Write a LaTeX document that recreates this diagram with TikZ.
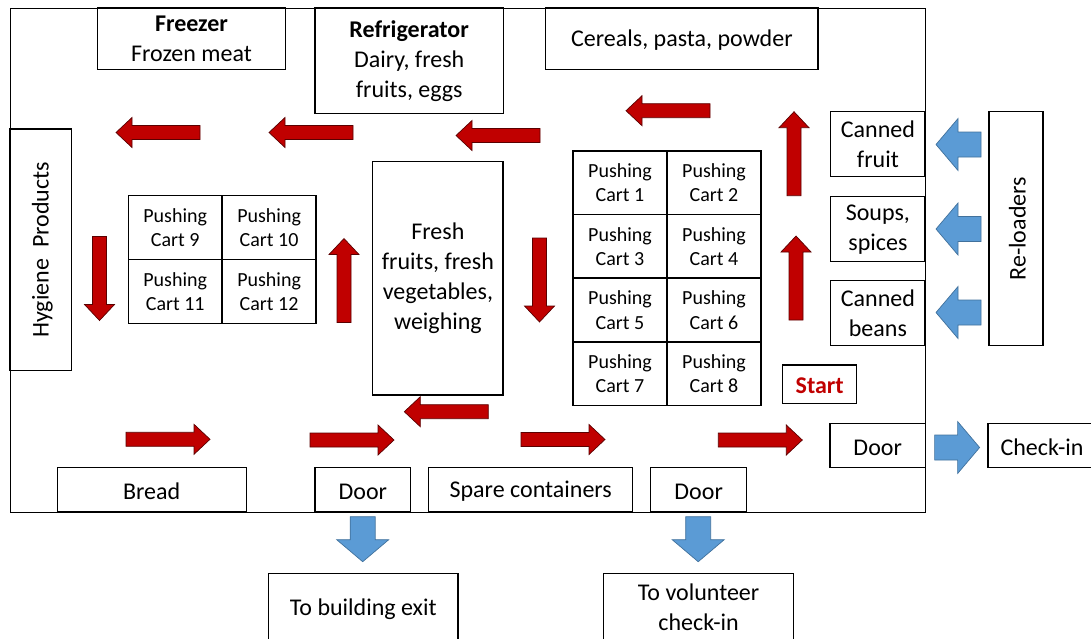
\documentclass[tikz,border=0pt]{standalone}
\usepackage{fontspec}
\setmainfont{Carlito}
\definecolor{redfill}{HTML}{C00000}
\definecolor{redline}{HTML}{5A0000}
\definecolor{bluefill}{HTML}{5B9BD5}
\definecolor{blueline}{HTML}{41719C}
\newcommand\mainfnt{\fontsize{24}{30}\selectfont}
\newcommand\cartfnt{\fontsize{20}{24.5}\selectfont}
\tikzset{
  box/.style={draw, line width=1.4pt, inner sep=0pt, align=center, font=\mainfnt,
    execute at begin node={\rule{0pt}{19.5pt}}},
  cart/.style={draw, line width=1.4pt, inner sep=0pt, align=center, font=\cartfnt,
    minimum width=94pt, minimum height=63.7pt, execute at begin node={\rule{0pt}{15.5pt}}},
  redarr/.style={fill=redfill, draw=redline, line width=0.7pt},
  bluearr/.style={fill=bluefill, draw=blueline, line width=0.7pt},
}
% red block arrow: #1 tail point, #2 direction angle
\newcommand\redarrow[2]{%
  \begin{scope}[shift={#1}, rotate=#2]
    \draw[redarr] (0,-7) -- (68,-7) -- (68,-15) -- (84,0) -- (68,15) -- (68,7) -- (0,7) -- cycle;
  \end{scope}}
% blue block arrow
\newcommand\bluearrow[2]{%
  \begin{scope}[shift={#1}, rotate=#2]
    \draw[bluearr] (0,-12.5) -- (23,-12.5) -- (23,-26) -- (45,0) -- (23,26) -- (23,12.5) -- (0,12.5) -- cycle;
  \end{scope}}
\begin{document}
\begin{tikzpicture}[x=1pt, y=-1pt]
\useasboundingbox (0,0) rectangle (1091,638);
\clip (0,0) rectangle (1091,638);

% building outline
\node[draw, line width=1.4pt, inner sep=0pt, minimum width=915pt, minimum height=503.5pt, anchor=north west] (building) at (10,8) {};

% top row
\node[box, minimum width=188.4pt, minimum height=61.7pt] (freezer) at (191.5,38.9) {\textbf{Freezer}\\Frozen meat};
\node[box, minimum width=188.3pt, minimum height=105.3pt] (fridge) at (409.2,60.7) {\textbf{Refrigerator}\\Dairy, fresh\\fruits, eggs};
\node[box, minimum width=272.3pt, minimum height=61.7pt] (cereals) at (681.9,38.9) {Cereals, pasta, powder};

% left wall
\node[box, rotate=90, minimum width=241.7pt, minimum height=61.7pt] (hygiene) at (40.9,249.9) {Hygiene\ \ Products};

% left cart grid
\node[cart] (c9)  at (175.2,227.6) {Pushing\\Cart 9};
\node[cart] (c10) at (269.1,227.6) {Pushing\\Cart 10};
\node[cart] (c11) at (175.2,291.5) {Pushing\\Cart 11};
\node[cart] (c12) at (269.1,291.5) {Pushing\\Cart 12};

% fresh produce
\node[box, minimum width=130.3pt, minimum height=233.3pt] (fresh) at (437.9,278.4) {Fresh\\fruits, fresh\\vegetables,\\weighing};

% right cart grid
\node[cart] (c1) at (620,182.8) {Pushing\\Cart 1};
\node[cart] (c2) at (714,182.8) {Pushing\\Cart 2};
\node[cart] (c3) at (620,246.4) {Pushing\\Cart 3};
\node[cart] (c4) at (714,246.4) {Pushing\\Cart 4};
\node[cart] (c5) at (620,310.0) {Pushing\\Cart 5};
\node[cart] (c6) at (714,310.0) {Pushing\\Cart 6};
\node[cart] (c7) at (620,373.7) {Pushing\\Cart 7};
\node[cart] (c8) at (714,373.7) {Pushing\\Cart 8};

% right wall shelves
\node[box, minimum width=94.3pt, minimum height=65pt] (fruit) at (877.9,144.2) {Canned\\fruit};
\node[box, minimum width=94.3pt, minimum height=65pt] (soups) at (877.9,229.2) {Soups,\\spices};
\node[box, minimum width=94.3pt, minimum height=65pt] (beans) at (877.9,313.0) {Canned\\beans};
\node[box, rotate=90, minimum width=234pt, minimum height=54pt] (reload) at (1016,228.7) {Re-loaders};

\node[box, minimum width=74pt, minimum height=38.3pt, text=redfill] (start) at (819.7,384.2) {\textbf{Start}};
\node[box, minimum width=95.3pt, minimum height=44.4pt] (doorR) at (877.7,445.5) {Door};
\node[box, minimum width=108pt, minimum height=44.4pt] (checkin) at (1042,445.5) {Check-in};

% bottom wall
\node[box, minimum width=189pt, minimum height=43.8pt] (bread) at (151.7,489.6) {Bread};
\node[box, minimum width=95.7pt, minimum height=43.8pt] (doorL) at (362.9,489.6) {Door};
\node[box, minimum width=204pt, minimum height=43.8pt] (spare) at (530.7,489.6) {Spare containers};
\node[box, minimum width=96pt, minimum height=43.8pt] (doorM) at (698.7,489.6) {Door};

% outside
\node[box, minimum width=189.3pt, minimum height=68pt] (exit) at (363.3,607.3) {To building exit};
\node[box, minimum width=190pt, minimum height=68pt] (vol) at (698.6,607.3) {To volunteer\\check-in};

% blue arrows
\bluearrow{(362.7,516.7)}{-90}
\bluearrow{(698.2,516.7)}{-90}
\bluearrow{(981,144.5)}{180}
\bluearrow{(981,229)}{180}
\bluearrow{(981,312.5)}{180}
\bluearrow{(934.6,447.5)}{0}

% red flow arrows
\redarrow{(200,132.5)}{180}
\redarrow{(353,132.5)}{180}
\redarrow{(540,135.5)}{180}
\redarrow{(710,110.7)}{180}
\redarrow{(99.5,236.5)}{-90}
\redarrow{(344,322.5)}{90}
\redarrow{(539.5,238)}{-90}
\redarrow{(794,195.7)}{90}
\redarrow{(796,320)}{90}
\redarrow{(126,439.3)}{0}
\redarrow{(310,440)}{0}
\redarrow{(488.3,411.7)}{180}
\redarrow{(521,439.5)}{0}
\redarrow{(718.3,440)}{0}
\end{tikzpicture}
\end{document}
